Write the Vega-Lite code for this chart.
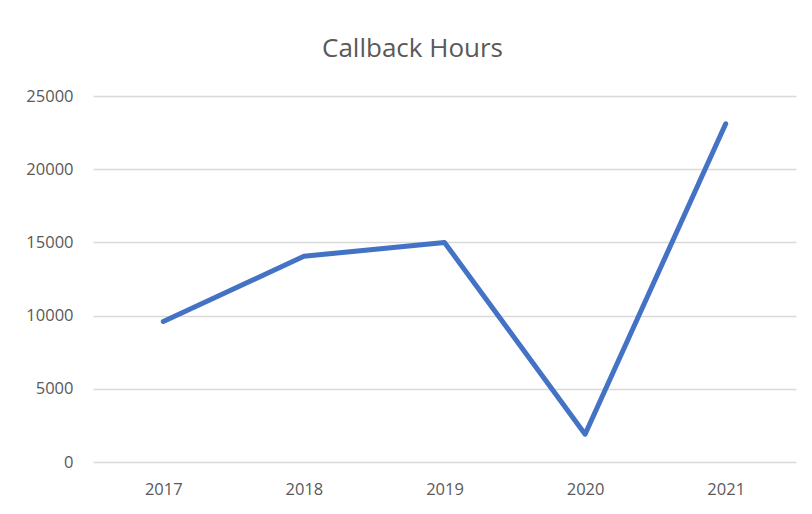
{
  "$schema": "https://vega.github.io/schema/vega-lite/v6.json",
  "width": 703,
  "height": 366,
  "autosize": {"type": "none"},
  "padding": {"left": 93, "top": 96, "right": 16, "bottom": 52},
  "background": "white",
  "title": {
    "text": "Callback Hours",
    "anchor": "middle",
    "frame": "group",
    "dx": -32,
    "offset": 26,
    "font": "Open Sans",
    "fontSize": 26,
    "fontWeight": "normal",
    "color": "#595959"
  },
  "data": {
    "values": [
      {"year": "2017", "hours": 9600},
      {"year": "2018", "hours": 14050},
      {"year": "2019", "hours": 15000},
      {"year": "2020", "hours": 1900},
      {"year": "2021", "hours": 23100}
    ]
  },
  "mark": {"type": "line", "color": "#4472C4", "strokeWidth": 5, "strokeCap": "round", "strokeJoin": "round"},
  "encoding": {
    "x": {
      "field": "year",
      "type": "ordinal",
      "scale": {"type": "point", "padding": 0.5},
      "axis": {
        "title": null,
        "domain": false,
        "ticks": false,
        "grid": false,
        "labelAngle": 0,
        "labelPadding": 19,
        "labelFont": "Open Sans",
        "labelFontSize": 16.5,
        "labelColor": "#595959"
      }
    },
    "y": {
      "field": "hours",
      "type": "quantitative",
      "scale": {"domain": [0, 25000]},
      "axis": {
        "title": null,
        "values": [0, 5000, 10000, 15000, 20000, 25000],
        "format": "d",
        "domain": false,
        "ticks": false,
        "grid": true,
        "gridColor": "#d9d9d9",
        "gridWidth": 1.5,
        "labelPadding": 20,
        "labelFont": "Open Sans",
        "labelFontSize": 16.5,
        "labelColor": "#595959"
      }
    }
  },
  "config": {"view": {"stroke": null}}
}
